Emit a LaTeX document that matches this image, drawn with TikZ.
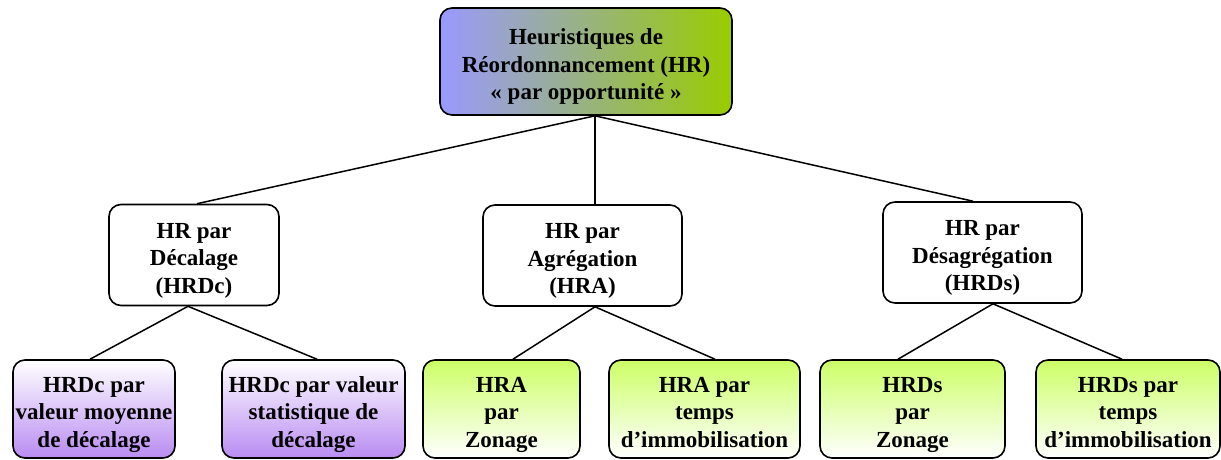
\documentclass[tikz,border=0pt]{standalone}
\usepackage{fontspec}
\setmainfont{Liberation Serif}
\definecolor{topleft}{HTML}{9999FF}
\definecolor{topright}{HTML}{99CC00}
\definecolor{lila}{HTML}{B98CF2}
\definecolor{lime}{HTML}{CCFF66}
\newcommand\boxtext[1]{\raisebox{-5pt}[\height][\depth]{\begin{tabular}{@{}c@{}}#1\end{tabular}}}
\begin{document}
\begin{tikzpicture}[x=1pt,y=-1pt,
  box/.style={draw=black, line width=1.6pt, rounded corners=12pt,
    font=\fontsize{23}{27.5}\selectfont\bfseries, inner sep=0pt},
  rootbox/.style={box, left color=topleft, right color=topright, shading angle=90},
  midbox/.style={box, fill=white, minimum height=101pt},
  purplebox/.style={box, top color=white, bottom color=lila, minimum height=98pt},
  greenbox/.style={box, top color=lime, bottom color=white, minimum height=98pt},
  link/.style={draw=black, line width=1.5pt}]
\useasboundingbox (0,0) rectangle (1221,459);
\clip (0,0) rectangle (1221,459);

\node[rootbox, minimum width=292pt, minimum height=107pt] (root) at (586,61.5)
  {\boxtext{Heuristiques de\\Réordonnancement (HR)\\«~par opportunité~»}};

\node[midbox, minimum width=170pt] (dec) at (194,255) {\boxtext{HR par\\Décalage\\(HRDc)}};
\node[midbox, minimum width=199pt] (agr) at (582.5,255.5) {\boxtext{HR par\\Agrégation\\(HRA)}};
\node[midbox, minimum width=199pt] (des) at (982.5,252.5) {\boxtext{HR par\\Désagrégation\\(HRDs)}};

\node[purplebox, minimum width=162pt] (p1) at (94,409) {\boxtext{HRDc par\\valeur moyenne\\de décalage}};
\node[purplebox, minimum width=183pt] (p2) at (313.5,409) {\boxtext{HRDc par valeur\\statistique de\\décalage}};
\node[greenbox, minimum width=157pt] (g1) at (501.5,409) {\boxtext{HRA\\par\\Zonage}};
\node[greenbox, minimum width=191pt] (g2) at (704.5,409) {\boxtext{HRA par\\temps\\d’immobilisation}};
\node[greenbox, minimum width=185pt] (g3) at (912.5,409) {\boxtext{HRDs\\par\\Zonage}};
\node[greenbox, minimum width=184pt] (g4) at (1128,409) {\boxtext{HRDs par\\temps\\d’immobilisation}};

\draw[link] ([xshift=9pt]root.south) -- ([xshift=3pt]dec.north);
\draw[link] ([xshift=9pt]root.south) -- ([xshift=12.5pt]agr.north);
\draw[link] ([xshift=9pt]root.south) -- ([xshift=-9.5pt]des.north);

\draw[link] ([xshift=-6pt]dec.south) -- ([xshift=-4pt]p1.north);
\draw[link] ([xshift=-6pt]dec.south) -- ([xshift=3.5pt]p2.north);
\draw[link] ([xshift=12.5pt]agr.south) -- ([xshift=11.5pt]g1.north);
\draw[link] ([xshift=12.5pt]agr.south) -- ([xshift=10.5pt]g2.north);
\draw[link] ([xshift=10.5pt]des.south) -- ([xshift=-14.5pt]g3.north);
\draw[link] ([xshift=10.5pt]des.south) -- ([xshift=-6pt]g4.north);
\end{tikzpicture}
\end{document}
